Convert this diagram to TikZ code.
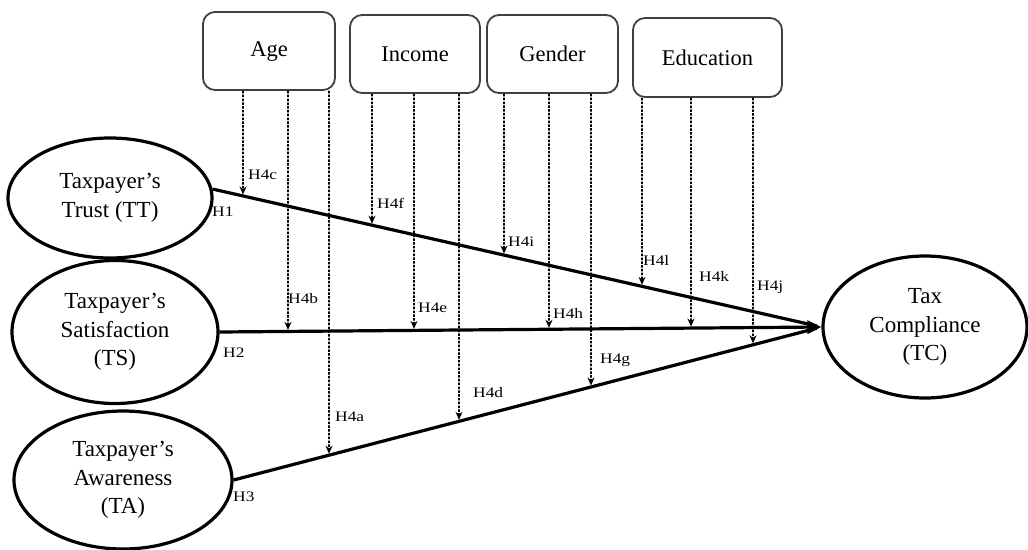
\documentclass[tikz,border=0pt]{standalone}
\usepackage{fontspec}
\setmainfont{Liberation Serif}
\newfontfamily\labfont[FakeStretch=1.2]{Liberation Serif}
\usetikzlibrary{shapes.geometric,arrows.meta,calc}
\begin{document}
\begin{tikzpicture}[x=1pt,y=-1pt,
 construct/.style={ellipse,draw,line width=3.2pt,inner sep=0pt,align=center,font=\fontsize{23}{28.5}\selectfont},
 modbox/.style={rectangle,rounded corners=12pt,draw=black!75,line width=1.8pt,inner sep=0pt,font=\fontsize{22.5}{26}\selectfont},
 mainpath/.style={line width=3.2pt},
 modline/.style={line width=1.7pt,dash pattern=on 2.5pt off 1.3pt,-{Stealth[length=8pt,width=7pt]}},
 hlab/.style={font=\labfont\fontsize{14.5}{16}\selectfont,anchor=west,inner sep=0pt}]
\path[use as bounding box] (0,0) rectangle (1028,549);
% constructs
\node[construct,minimum width=204pt,minimum height=120pt] (TT) at (110,198) {Taxpayer’s\\Trust (TT)};
\node[construct,minimum width=206pt,minimum height=143pt] (TS) at (115,332) {Taxpayer’s\\Satisfaction\\(TS)};
\node[construct,minimum width=218pt,minimum height=138pt] (TA) at (123,480) {Taxpayer’s\\Awareness\\(TA)};
\node[construct,minimum width=204pt,minimum height=142pt] (TC) at (925,327) {Tax\\Compliance\\(TC)};
% moderators
\node[modbox,minimum width=132pt,minimum height=78pt] (age) at (269,51) {Age};
\node[modbox,minimum width=130pt,minimum height=78pt] (inc) at (415,54) {Income};
\node[modbox,minimum width=131pt,minimum height=78pt] (gen) at (552.5,54) {Gender};
\node[modbox,minimum width=149pt,minimum height=79pt] (edu) at (707.5,57.5) {Education};
% main paths
\coordinate (sTT) at (TT.5);
\coordinate (sTS) at (TS.east);
\coordinate (sTA) at (TA.east);
\coordinate (tip) at (TC.west);
\draw[mainpath,shorten >=5pt] (sTT) -- (tip);
\draw[mainpath,shorten >=5pt] (sTA) -- (tip);
\draw[mainpath,-{Triangle[length=14pt,width=13pt]}] (sTS) -- (tip);
% moderating arrows
\foreach \n/\b/\x/\s in {c/age/243/sTT, b/age/288/sTS, a/age/329/sTA,
  f/inc/372/sTT, e/inc/414/sTS, d/inc/459/sTA,
  i/gen/504/sTT, h/gen/549/sTS, g/gen/591/sTA,
  l/edu/642/sTT, k/edu/691/sTS, j/edu/753/sTA}{
  \coordinate (top\n) at (\b.south -| \x,0);
  \coordinate (end\n) at (intersection cs: first line={(top\n)--(\x,600)}, second line={(\s)--(tip)});
  \draw[modline,shorten >=1.5pt] (top\n) -- (end\n);
}
% labels
\node[hlab] (lH1) at (212,212) {H1};
\node[hlab] (lH2) at (223,353) {H2};
\node[hlab] (lH3) at (233,497) {H3};
\node[hlab] (lc) at (248,175) {H4c};
\node[hlab] (lf) at (377,203) {H4f};
\node[hlab] (li) at (508,242) {H4i};
\node[hlab] (ll) at (643,260) {H4l};
\node[hlab] (lb) at (288,299) {H4b};
\node[hlab] (le) at (418,308) {H4e};
\node[hlab] (lh) at (553,313) {H4h};
\node[hlab] (lk) at (699,276) {H4k};
\node[hlab] (lj) at (757,287) {H4j};
\node[hlab] (la) at (335,417) {H4a};
\node[hlab] (ld) at (473,393) {H4d};
\node[hlab] (lg) at (600,360) {H4g};
\end{tikzpicture}
\end{document}
